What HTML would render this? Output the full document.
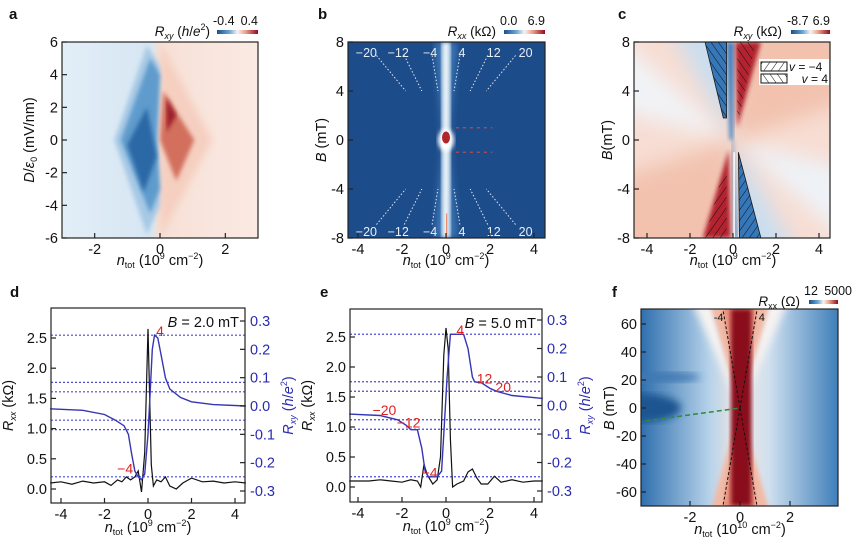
<!DOCTYPE html>
<html><head><meta charset="utf-8">
<style>
html,body{margin:0;padding:0;background:#fff;}
svg{display:block;font-family:"Liberation Sans",Arial,sans-serif;}
</style></head>
<body>
<svg id="fig" width="865" height="557" viewBox="0 0 865 557" xmlns="http://www.w3.org/2000/svg">
<defs>
  <linearGradient id="cbRB" x1="0" x2="1" y1="0" y2="0">
    <stop offset="0" stop-color="#1a4f8f"/><stop offset="0.3" stop-color="#6aa5d3"/><stop offset="0.5" stop-color="#f7f4f2"/><stop offset="0.7" stop-color="#eb9f86"/><stop offset="1" stop-color="#8e0e1f"/>
  </linearGradient>
  <linearGradient id="bgA" x1="0" x2="1" y1="0" y2="0">
    <stop offset="0" stop-color="#e3eef7"/><stop offset="0.45" stop-color="#d6e6f3"/><stop offset="0.5" stop-color="#f7e0d6"/><stop offset="1" stop-color="#faeae3"/>
  </linearGradient>
  <linearGradient id="bgF" x1="0" x2="1" y1="0" y2="0">
    <stop offset="0" stop-color="#2f6fae"/><stop offset="0.35" stop-color="#b7d3ea"/><stop offset="0.5" stop-color="#f3e6e2"/><stop offset="0.65" stop-color="#cfe0ef"/><stop offset="1" stop-color="#3f7fba"/>
  </linearGradient>
  <filter id="blur2"><feGaussianBlur stdDeviation="2"/></filter>
  <filter id="blur4"><feGaussianBlur stdDeviation="4"/></filter>
  <filter id="blur10" x="-50%" y="-50%" width="200%" height="200%"><feGaussianBlur stdDeviation="10"/></filter>
  <pattern id="hatchR" width="6" height="6" patternUnits="userSpaceOnUse" patternTransform="rotate(-35)">
    <line x1="0" y1="0" x2="0" y2="6" stroke="#111" stroke-width="1"/>
  </pattern>
  <pattern id="hatchL" width="6" height="6" patternUnits="userSpaceOnUse" patternTransform="rotate(35)">
    <line x1="0" y1="0" x2="0" y2="6" stroke="#111" stroke-width="1"/>
  </pattern>
  <clipPath id="clipA"><rect x="62" y="42" width="196" height="196"/></clipPath>
  <clipPath id="clipB"><rect x="348" y="42" width="197" height="196"/></clipPath>
  <clipPath id="clipC"><rect x="634" y="42" width="196" height="196"/></clipPath>
  <clipPath id="clipF"><rect x="641" y="309" width="197" height="197"/></clipPath>
</defs>
<g id="root"></g>
</svg>
<script>
const NS="http://www.w3.org/2000/svg";
const root=document.getElementById('root');
function el(tag,attrs,parent){const e=document.createElementNS(NS,tag);for(const k in attrs)e.setAttribute(k,attrs[k]);(parent||root).appendChild(e);return e;}
function txt(s,x,y,attrs,parent){const t=el('text',Object.assign({x:x,y:y,'font-size':13,fill:'#111'},attrs||{}),parent);t.innerHTML=s;return t;}
function lin(d0,d1,p0,p1){return v=>p0+(v-d0)*(p1-p0)/(d1-d0);}

// ---------------- data arrays ----------------
const aXTicks=[-2,0,2];
const aYTicks=[6,4,2,0,-2,-4,-6];
const bXTicks=[-4,-2,0,2,4];
const bYTicks=[8,4,0,-4,-8];
const fillNu=[-20,-12,-4,4,12,20];
const nuSlope=0.0229;
const fXTicks=[-2,0,2];
const fYTicks=[60,40,20,0,-20,-40,-60];
const lrTicks=[0.0,0.5,1.0,1.5,2.0,2.5];
const lrTickLabels=['0.0','0.5','1.0','1.5','2.0','2.5'];
const rrTicks=[0.3,0.2,0.1,0.0,-0.1,-0.2,-0.3];
const rrTickLabels=['0.3','0.2','0.1','0.0','-0.1','-0.2','-0.3'];
const plateaus=[0.25,0.0833,0.05,-0.05,-0.0833,-0.25];
const dN=[-4.5,-3,-2,-1.5,-1.1,-0.9,-0.75,-0.6,-0.45,-0.3,-0.15,0,0.1,0.2,0.3,0.45,0.6,0.8,1.0,1.5,2,3,4.5];
const dRxy=[-0.01,-0.015,-0.03,-0.05,-0.07,-0.1,-0.17,-0.23,-0.25,-0.26,-0.24,-0.1,0.05,0.2,0.25,0.24,0.18,0.1,0.06,0.03,0.015,0.005,0.0];
const dNxx=[-4.5,-4,-3.5,-3,-2.5,-2,-1.7,-1.4,-1.2,-1,-0.8,-0.6,-0.45,-0.3,-0.15,0,0.15,0.25,0.4,0.6,0.8,1,1.3,1.6,2,2.5,3,3.5,4,4.5];
const dRxx=[0.1,0.12,0.08,0.13,0.1,0.12,0.06,0.15,0.12,0.2,0.15,0.2,0.3,-0.05,0.6,2.65,0.4,0.05,0.15,0.12,0.2,0.05,0.0,0.1,0.18,0.12,0.13,0.1,0.12,0.1];
const eN=[-4.4,-3,-2.2,-1.8,-1.6,-1.3,-1.1,-0.95,-0.8,-0.4,-0.2,-0.1,0.05,0.2,0.8,1.0,1.2,1.3,1.6,2.0,2.3,3,4.4];
const eRxy=[-0.03,-0.035,-0.05,-0.07,-0.085,-0.085,-0.15,-0.23,-0.25,-0.25,-0.23,-0.1,0.1,0.25,0.25,0.2,0.1,0.083,0.08,0.06,0.05,0.035,0.025];
const eNxx=[-4.4,-3.5,-3,-2.5,-2,-1.6,-1.3,-1.15,-1.0,-0.85,-0.6,-0.4,-0.25,-0.1,0,0.1,0.2,0.3,0.5,0.8,1.0,1.2,1.4,1.6,1.9,2.2,2.5,3,3.5,4,4.4];
const eRxx=[0.1,0.1,0.12,0.1,0.08,0.12,0.1,0.0,0.38,0.2,0.05,0.12,0.5,2.2,2.65,2.3,0.8,0.0,0.05,0.1,0.25,0.3,0.15,0.05,0.05,0.18,0.08,0.12,0.08,0.1,0.1];
const dLabels=[['4',0.55,0.265],['−4',-1.05,-0.22]];
const eLabels=[['4',0.65,0.265],['12',1.75,0.095],['20',2.6,0.065],['−20',-2.8,-0.015],['−12',-1.7,-0.06],['−4',-0.75,-0.235]];

// ---------------- generic helpers ----------------
const FS=14.5;
function frame(x,y,w,h,name){el('rect',{x:x,y:y,width:w,height:h,fill:'none',stroke:'#222','stroke-width':1.2,});}
function xTicks(g,ticks,sx,yb,labels){ticks.forEach((t,i)=>{el('line',{x1:sx(t),x2:sx(t),y1:yb,y2:yb-5,stroke:'#222','stroke-width':1.2},g);
 const tt=txt(labels?labels[i]:String(t),sx(t),yb+16,{'text-anchor':'middle','font-size':FS},g);
 });}
function yTicks(g,ticks,sy,xl,labels,color,right){ticks.forEach((t,i)=>{el('line',{x1:xl,x2:right?xl-5:xl+5,y1:sy(t),y2:sy(t),stroke:'#222','stroke-width':1.2},g);
 const tt=txt(labels?labels[i]:String(t),right?xl+5:xl-4,sy(t)+5,{'text-anchor':right?'start':'end','font-size':FS,fill:color||'#111'},g);
 });}
function ntotLabel(g,cx,y,exp,sub){const t=txt('<tspan font-style="italic">n</tspan><tspan font-size="9" dy="3">'+(sub||'tot')+'</tspan><tspan dy="-3"> (10</tspan><tspan font-size="9" dy="-6">'+exp+'</tspan><tspan dy="6"> cm</tspan><tspan font-size="9" dy="-6">−2</tspan><tspan dy="6">)</tspan>',cx,y,{'text-anchor':'middle','font-size':FS},g);}
function yLabel(g,x,cy,html,color){const t=txt(html,x,cy,{'text-anchor':'middle','font-size':FS,transform:'rotate(-90 '+x+' '+cy+')',fill:color||'#111'},g);return t;}
function panelLetter(l,x,y){const t=txt(l,x,y,{'font-weight':'bold','font-size':15});}
function colorbar(x,y,w,lo,hi,lab,labX,loX,hiX){const g=el('g',{});
 el('rect',{x:x,y:y,width:w,height:4,fill:'url(#cbRB)'},g);
 txt(lo,loX!==undefined?loX:x-4,y-5,{'font-size':12.5},g);txt(hi,hiX!==undefined?hiX:x+w,y-5,{'text-anchor':'end','font-size':12.5},g);
 txt(lab,labX,y+6,{'text-anchor':'end','font-size':13.5},g);}
function poly(g,pts,sx,sy,attrs){return el('polygon',Object.assign({points:pts.map(p=>sx(p[0])+','+sy(p[1])).join(' ')},attrs),g);}

// ---------------- Panel a ----------------
(function(){
 const sx=lin(-3,3,62,258), sy=lin(6,-6,42,238);
 const g=el('g',{'clip-path':'url(#clipA)'});
 el('rect',{x:62,y:42,width:196,height:196,fill:'url(#bgA)'},g);
 poly(g,[[0,6],[1.6,0],[0,-6]],sx,sy,{fill:'#f5cfc0',filter:'url(#blur4)'});
 poly(g,[[-0.4,5.8],[-1.4,0],[-0.4,-5.8],[0,-4],[-0.1,0],[0,4.5]],sx,sy,{fill:'#a7c9e5',filter:'url(#blur2)'});
 poly(g,[[-0.3,5],[-1.2,0],[-0.3,-4.5],[0,-3],[-0.1,0],[0,4]],sx,sy,{fill:'#5f9bcc',filter:'url(#blur2)'});
 poly(g,[[-0.4,2],[-1.0,-0.3],[-0.5,-3.2],[-0.1,-1]],sx,sy,{fill:'#2b67a6',filter:'url(#blur2)'});
 poly(g,[[0.1,3],[1.05,0],[0.5,-2.5],[0,0]],sx,sy,{fill:'#d2705d',filter:'url(#blur2)'});
 poly(g,[[0.2,2.6],[0.5,1.5],[0.2,0.5]],sx,sy,{fill:'#9d1d2a',filter:'url(#blur2)'});
 frame(62,42,196,196,'plot-frame-a');
 const ga=el('g',{});
 xTicks(ga,aXTicks,sx,238);yTicks(ga,aYTicks,sy,62);
 ntotLabel(ga,160,265,'9');
 yLabel(ga,34,140,'<tspan font-style="italic">D</tspan>/<tspan font-style="italic">ε</tspan><tspan font-size="9" dy="3">0</tspan><tspan dy="-3"> (mV/nm)</tspan>');
 colorbar(217,30,41,'-0.4','0.4','<tspan font-style="italic">R</tspan><tspan font-size="9" dy="3" font-style="italic">xy</tspan><tspan dy="-3"> (</tspan><tspan font-style="italic">h</tspan>/<tspan font-style="italic">e</tspan><tspan font-size="9" dy="-6">2</tspan><tspan dy="6">)</tspan>',210);
 panelLetter('a',9,19);
})();

// ---------------- Panel b ----------------
(function(){
 const sx=lin(0,4,446,534), sy=lin(8,-8,42,238);
 const g=el('g',{'clip-path':'url(#clipB)'});
 el('rect',{x:348,y:42,width:197,height:196,fill:'#1d4c8a'},g);
 poly(g,[[-0.5,8],[0.5,8],[0.1,0],[0.5,-8],[-0.5,-8],[-0.1,0]],sx,sy,{fill:'#3f7ab8',filter:'url(#blur4)'});
 el('rect',{x:sx(-0.2),y:42,width:sx(0.2)-sx(-0.2),height:196,fill:'#e6f0f8',filter:'url(#blur2)'},g);
 el('ellipse',{cx:sx(0),cy:sy(0),rx:8,ry:11,fill:'#ffffff',filter:'url(#blur2)'},g);
 el('ellipse',{cx:sx(0),cy:sy(0.2),rx:4,ry:6,fill:'#b0262b'},g);
 el('line',{x1:sx(0.03),x2:sx(0.03),y1:sy(-6),y2:238,stroke:'#e88a6a','stroke-width':1.2},g);
 fillNu.forEach(nu=>{
  const l1=el('line',{x1:sx(nuSlope*nu*6.9),y1:sy(6.9),x2:sx(nuSlope*nu*4),y2:sy(4),stroke:'#dfe8f2','stroke-width':1,'stroke-dasharray':'1.5,2'},g);
  
  const l2=el('line',{x1:sx(-nuSlope*nu*6.9),y1:sy(-6.9),x2:sx(-nuSlope*nu*4),y2:sy(-4),stroke:'#dfe8f2','stroke-width':1,'stroke-dasharray':'1.5,2'},g);
  
  const lx=nuSlope*nu*7.9;
  const t1=txt(nu<0?'−'+(-nu):String(nu),sx(lx),sy(7.1)+4,{'text-anchor':'middle','font-size':12.5,fill:'#e8eef6'},g);
  
  const t2=txt(nu>0?'−'+nu:String(-nu),sx(-lx),sy(-7.5)+4,{'text-anchor':'middle','font-size':12.5,fill:'#e8eef6'},g);
  
 });
 [1,-1].forEach(b=>el('line',{x1:sx(0.45),x2:sx(2.1),y1:sy(b),y2:sy(b),stroke:'#c04a4a','stroke-width':1.3,'stroke-dasharray':'3,4'},g));
 frame(348,42,197,196,'plot-frame-b');
 const ga=el('g',{});
 xTicks(ga,bXTicks,sx,238);yTicks(ga,bYTicks,sy,348);
 ntotLabel(ga,446,265,'9');
 yLabel(ga,326,140,'<tspan font-style="italic">B</tspan> (mT)');
 colorbar(504,30,41,'0.0','6.9','<tspan font-style="italic">R</tspan><tspan font-size="9" dy="3" font-style="italic">xx</tspan><tspan dy="-3"> (kΩ)</tspan>',496);
 panelLetter('b',318,19);
})();

// ---------------- Panel c ----------------
(function(){
 const sx=lin(0,4,733,819), sy=lin(8,-8,42,238);
 const g=el('g',{'clip-path':'url(#clipC)'});
 el('rect',{x:634,y:42,width:196,height:196,fill:'#f7ddd3'},g);
 poly(g,[[0,0],[-7,11],[-7,3]],sx,sy,{fill:'#f1f3f6',filter:'url(#blur10)'});
 poly(g,[[0,0],[7,-11],[7,-3]],sx,sy,{fill:'#eef2f7',filter:'url(#blur10)'});
 poly(g,[[0,0],[-3.5,11],[0,11]],sx,sy,{fill:'#c9def0',filter:'url(#blur10)'});
 poly(g,[[0,0],[3.5,-11],[0,-11]],sx,sy,{fill:'#c9def0',filter:'url(#blur10)'});
 poly(g,[[0,0],[0.3,11],[7,11],[7,4]],sx,sy,{fill:'#f2c2af',filter:'url(#blur10)'});
 poly(g,[[0,0],[-0.3,-11],[-7,-11],[-7,-4]],sx,sy,{fill:'#f2c2af',filter:'url(#blur10)'});
 poly(g,[[-0.3,8],[0.05,8],[0,0],[-0.15,0]],sx,sy,{fill:'#3f7fbd',filter:'url(#blur2)'});
 poly(g,[[0.1,8],[1.3,8],[0.2,1]],sx,sy,{fill:'#b3242e',filter:'url(#blur2)'});
 poly(g,[[0.2,8],[1.05,8],[0.3,2],[0.2,2]],sx,sy,{fill:'url(#hatchR)'});
 poly(g,[[-1.3,8],[-0.3,8],[-0.3,1.8],[-0.45,1.8]],sx,sy,{fill:'#3577b8',stroke:'#1a1a1a','stroke-width':0.8});
 poly(g,[[-1.3,8],[-0.3,8],[-0.3,1.8],[-0.45,1.8]],sx,sy,{fill:'url(#hatchR)'});
 poly(g,[[0,0],[0.2,-8],[0.05,-8],[-0.05,0]],sx,sy,{fill:'#3f7fbd',filter:'url(#blur2)'});
 poly(g,[[-1.4,-8],[-0.1,-8],[-0.2,-0.8]],sx,sy,{fill:'#b3242e',filter:'url(#blur2)'});
 poly(g,[[-1.3,-8],[-0.3,-8],[-0.3,-2.8],[-0.5,-2.8]],sx,sy,{fill:'url(#hatchL)'});
 poly(g,[[0.3,-8],[1.3,-8],[0.25,-1]],sx,sy,{fill:'#3577b8',stroke:'#1a1a1a','stroke-width':0.8});
 poly(g,[[0.3,-8],[1.3,-8],[0.25,-1]],sx,sy,{fill:'url(#hatchL)'});
 el('line',{x1:sx(0.05),x2:sx(0.05),y1:sy(-1),y2:238,stroke:'#ffffff','stroke-width':1.5},g);
 // legend
 const lg=el('g',{});
 el('rect',{x:759,y:59,width:70,height:26,fill:'#ffffff'},lg);
 el('rect',{x:761,y:62,width:26,height:9,fill:'url(#hatchL)',stroke:'#111','stroke-width':1},lg);
 el('rect',{x:761,y:74,width:26,height:9,fill:'url(#hatchR)',stroke:'#111','stroke-width':1},lg);
 const e1=txt('<tspan font-style="italic">v</tspan> = −4',789,71,{'font-size':12},lg);
 const e2=txt('<tspan font-style="italic">v</tspan> = 4',828,83,{'font-size':12,'text-anchor':'end'},lg);
 frame(634,42,196,196,'plot-frame-c');
 const ga=el('g',{});
 xTicks(ga,bXTicks,sx,238);yTicks(ga,bYTicks,sy,634);
 ntotLabel(ga,733,265,'9');
 yLabel(ga,612,140,'<tspan font-style="italic">B</tspan>(mT)');
 colorbar(791,30,39,'-8.7','6.9','<tspan font-style="italic">R</tspan><tspan font-size="9" dy="3" font-style="italic">xy</tspan><tspan dy="-3"> (kΩ)</tspan>',782);
 panelLetter('c',618,19);
})();

// ---------------- Panels d, e ----------------
function linePanel(opt){
 const sx=lin(0,4,opt.x0,opt.x4), syL=lin(0,2.5,opt.yL0,opt.yL25), syR=lin(0.3,-0.3,opt.yR3,opt.yRm3);
 const g=el('g',{});
 el('rect',{x:opt.L,y:opt.T,width:opt.R-opt.L,height:opt.B-opt.T,fill:'#fff'},g);
 plateaus.forEach(p=>{const l=el('line',{x1:opt.L,x2:opt.R,y1:syR(p),y2:syR(p),stroke:'#4a4ad6','stroke-width':1.2,'stroke-dasharray':'2,2'},g);
  });
 const pk=el('path',{d:opt.nxx.map((n,i)=>(i?'L':'M')+sx(n).toFixed(1)+','+syL(opt.rxx[i]).toFixed(1)).join(''),fill:'none',stroke:'#111','stroke-width':1.2},g);
 
 const pb=el('path',{d:opt.n.map((n,i)=>(i?'L':'M')+sx(n).toFixed(1)+','+syR(opt.rxy[i]).toFixed(1)).join(''),fill:'none',stroke:'#3535b5','stroke-width':1.4},g);
 
 opt.labels.forEach(l=>{const t=txt(l[0],sx(l[1]),syR(l[2])+5,{'text-anchor':'middle','font-size':14,fill:'#e0201e'},g);});
 const bt=txt('<tspan font-style="italic">B</tspan> = '+opt.bval+' mT',opt.R-6,opt.T+19,{'text-anchor':'end','font-size':FS},g);
 frame(opt.L,opt.T,opt.R-opt.L,opt.B-opt.T,'plot-frame-'+opt.id);
 xTicks(g,[-4,-2,0,2,4],sx,opt.B);
 yTicks(g,lrTicks,syL,opt.L,lrTickLabels);
 yTicks(g,rrTicks,syR,opt.R,rrTickLabels,'#2b2bb0',true);
 ntotLabel(g,(opt.L+opt.R)/2,opt.B+29,'9');
 yLabel(g,opt.L-38,(opt.T+opt.B)/2,'<tspan font-style="italic">R</tspan><tspan font-size="9" dy="3" font-style="italic">xx</tspan><tspan dy="-3"> (kΩ)</tspan>');
 yLabel(g,opt.R+48,(opt.T+opt.B)/2,'<tspan font-style="italic">R</tspan><tspan font-size="9" dy="3" font-style="italic">xy</tspan><tspan dy="-3"> (</tspan><tspan font-style="italic">h</tspan>/<tspan font-style="italic">e</tspan><tspan font-size="9" dy="-6">2</tspan><tspan dy="6">)</tspan>','#2b2bb0');
}
linePanel({id:'d',L:51,R:245,T:308,B:503,x0:148,x4:235,yL0:489,yL25:338,yR3:321,yRm3:491,n:dN,rxy:dRxy,nxx:dNxx,rxx:dRxx,labels:dLabels,bval:'2.0'});
linePanel({id:'e',L:350,R:542,T:309,B:502,x0:446,x4:534,yL0:487,yL25:337,yR3:320,yRm3:491,n:eN,rxy:eRxy,nxx:eNxx,rxx:eRxx,labels:eLabels,bval:'5.0'});
panelLetter('d',10,297);
panelLetter('e',320,297);

// ---------------- Panel f ----------------
(function(){
 const sx=lin(0,2,740,790), sy=lin(60,-60,324,492);
 const g=el('g',{'clip-path':'url(#clipF)'});
 el('rect',{x:641,y:309,width:197,height:197,fill:'url(#bgF)'},g);
 el('ellipse',{cx:641,cy:sy(0),rx:40,ry:14,fill:'#1d5490',filter:'url(#blur4)'},g);
 el('ellipse',{cx:660,cy:sy(22),rx:40,ry:5,fill:'#3f78b3',filter:'url(#blur4)'},g);
 poly(g,[[0,0],[-1.9,75],[-1.1,75]],sx,sy,{fill:'#f7f3f2',filter:'url(#blur4)'});
 poly(g,[[0,0],[1.1,75],[1.9,75]],sx,sy,{fill:'#f7f3f2',filter:'url(#blur4)'});
 poly(g,[[0,0],[-1.2,75],[1.2,75]],sx,sy,{fill:'#f2b9a5',filter:'url(#blur2)'});
 poly(g,[[0,0],[-1.2,-75],[1.2,-75]],sx,sy,{fill:'#f2b9a5',filter:'url(#blur2)'});
 poly(g,[[0,0],[-0.7,75],[0.7,75]],sx,sy,{fill:'#e58a76',filter:'url(#blur2)'});
 poly(g,[[0,0],[-0.7,-75],[0.7,-75]],sx,sy,{fill:'#e58a76',filter:'url(#blur2)'});
 el('rect',{x:sx(-0.36),y:309,width:sx(0.46)-sx(-0.36),height:197,fill:'#8a0c1c',filter:'url(#blur2)'},g);
 [[-0.68,70],[0.68,70],[-0.68,-70],[0.68,-70]].forEach(p=>{const l=el('line',{x1:sx(0),y1:sy(0),x2:sx(p[0]),y2:sy(p[1]),stroke:'#111','stroke-width':1,'stroke-dasharray':'3,2'},g);});
 el('line',{x1:sx(-4.1),y1:sy(-10),x2:sx(0),y2:sy(0),stroke:'#2f8a3a','stroke-width':1.5,'stroke-dasharray':'5,3'},g);
 txt('-4',sx(-1.05),sy(62),{'font-size':11},g);txt('4',sx(0.75),sy(62),{'font-size':11},g);
 frame(641,309,197,197,'plot-frame-f');
 const ga=el('g',{});
 xTicks(ga,fXTicks,sx,506);yTicks(ga,fYTicks,sy,641);
 ntotLabel(ga,740,534,'10');
 yLabel(ga,614,408,'<tspan font-style="italic">B</tspan> (mT)');
 colorbar(809,300,29,'12','5000','<tspan font-style="italic">R</tspan><tspan font-size="9" dy="3">xx</tspan><tspan dy="-3"> (Ω)</tspan>',800,804,852);
 panelLetter('f',612,297);
})();
</script>
</body></html>
